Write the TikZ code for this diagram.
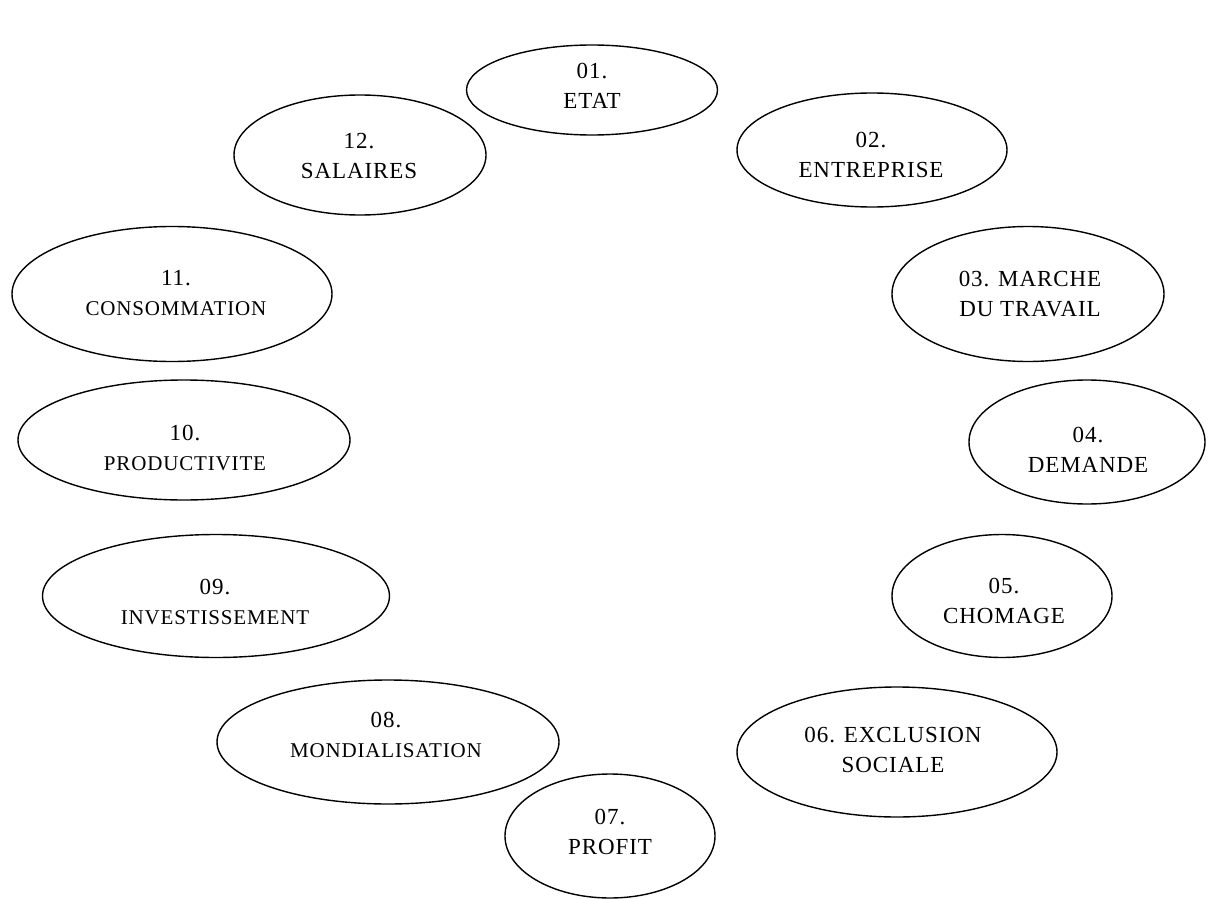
\documentclass[tikz,border=0pt]{standalone}
\usepackage{fontspec}
\setmainfont{Liberation Serif}
\newfontfamily\lblfont[LetterSpace=4]{Liberation Serif}
\usetikzlibrary{shapes.geometric}
\tikzset{
  ell/.style={draw=black, fill=white, line width=1.4pt, ellipse, inner sep=0pt},
  lbl/.style={align=center, font=\lblfont\fontsize{23}{30}\selectfont, inner sep=0pt},
}
\newcommand{\smalllbl}{\fontsize{21}{30}\selectfont}
\begin{document}
\begin{tikzpicture}[x=1pt,y=-1pt]
\useasboundingbox (0,0) rectangle (1211,899);
\fill[white] (0,0) rectangle (1211,899);
% ellipses
\node[ell, minimum width=251, minimum height=90] (e01) at (592,90) {};
\node[ell, minimum width=270, minimum height=114] (e02) at (872,150) {};
\node[ell, minimum width=252, minimum height=120] (e12) at (360,155) {};
\node[ell, minimum width=320, minimum height=135] (e11) at (172,294) {};
\node[ell, minimum width=272, minimum height=135] (e03) at (1028,294) {};
\node[ell, minimum width=332, minimum height=120] (e10) at (184,440) {};
\node[ell, minimum width=236, minimum height=124] (e04) at (1087,442) {};
\node[ell, minimum width=347, minimum height=123] (e09) at (216,596) {};
\node[ell, minimum width=220, minimum height=123] (e05) at (1002,596) {};
\node[ell, minimum width=342, minimum height=124] (e08) at (388,742) {};
\node[ell, minimum width=320, minimum height=130] (e06) at (897,752) {};
\node[ell, minimum width=210, minimum height=124] (e07) at (610,836) {};
% labels
\node[lbl] (t01) at (592,86) {01.\\ETAT};
\node[lbl] (t02) at (871,155) {02.\\ENTREPRISE};
\node[lbl] (t12) at (359,156) {12.\\SALAIRES};
\node[lbl] (t11) at (176,293) {11.\\{\smalllbl CONSOMMATION}};
\node[lbl] (t03) at (1030,294) {03. MARCHE\\DU TRAVAIL};
\node[lbl] (t10) at (185,448) {10.\\{\smalllbl PRODUCTIVITE}};
\node[lbl] (t04) at (1088,450) {04.\\DEMANDE};
\node[lbl] (t09) at (215,602) {09.\\{\smalllbl INVESTISSEMENT}};
\node[lbl] (t05) at (1004,601) {05.\\CHOMAGE};
\node[lbl] (t08) at (386,735) {08.\\{\smalllbl MONDIALISATION}};
\node[lbl] (t06) at (893,750) {06. EXCLUSION\\SOCIALE};
\node[lbl] (t07) at (610,832) {07.\\PROFIT};
\end{tikzpicture}
\end{document}
